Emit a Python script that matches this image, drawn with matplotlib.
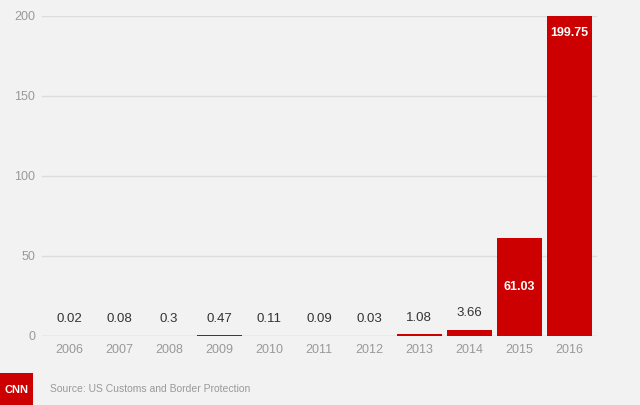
import matplotlib
matplotlib.use("Agg")
import matplotlib.pyplot as plt
from matplotlib.patches import Rectangle

plt.rcParams['font.family'] = ['Liberation Sans', 'DejaVu Sans']

years = ['2006', '2007', '2008', '2009', '2010', '2011',
         '2012', '2013', '2014', '2015', '2016']
values = [0.02, 0.08, 0.3, 0.47, 0.11, 0.09, 0.03, 1.08, 3.66, 61.03, 199.75]
value_labels = ['0.02', '0.08', '0.3', '0.47', '0.11', '0.09',
                '0.03', '1.08', '3.66', '61.03', '199.75']
yticks = [0, 50, 100, 150, 200]

bg = '#f2f2f2'
red = '#cc0000'

fig = plt.figure(figsize=(6.4, 4.05), dpi=100, facecolor=bg)
ax = fig.add_axes([0.0656, 0.1704, 0.8674, 0.7901], facecolor=bg)

x = list(range(len(years)))
ax.bar(x, values, width=0.9, color=red, zorder=3)

ax.set_xlim(-0.54, 10.56)
ax.set_ylim(0, 200)
ax.set_yticks(yticks)
ax.set_yticklabels([str(t) for t in yticks], color='#999999', fontsize=9)
ax.set_xticks(x)
ax.set_xticklabels(years, color='#999999', fontsize=9)
ax.tick_params(axis='both', length=0, pad=5)
ax.tick_params(axis='x', pad=6)
ax.grid(axis='y', color='#dddddd', linewidth=1, zorder=0)
ax.set_axisbelow(True)
for s in ax.spines.values():
    s.set_visible(False)
ax.axhline(0, color='#dddddd', linewidth=1, zorder=1)

# value labels: above small bars, inside the two tall ones
for i, (v, lab) in enumerate(zip(values, value_labels)):
    if i == len(values) - 1:
        ax.annotate(lab, (i, v), xytext=(0, -12), textcoords='offset points',
                    ha='center', va='center', color='white', fontsize=9,
                    fontweight='bold', zorder=4)
    elif i == len(values) - 2:
        ax.annotate(lab, (i, v / 2), xytext=(0, 0), textcoords='offset points',
                    ha='center', va='center', color='white', fontsize=9,
                    fontweight='bold', zorder=4)
    else:
        ax.annotate(lab, (i, v), xytext=(0, 12), textcoords='offset points',
                    ha='center', va='center', color='#333333', fontsize=9.5,
                    zorder=4)

# CNN logo and source line
fig.patches.append(Rectangle((0, 0), 33 / 640, 32 / 405, transform=fig.transFigure,
                             facecolor=red, edgecolor='none'))
fig.text(16.5 / 640, 1 - 390 / 405, 'CNN', color='white', fontsize=8,
         fontweight='bold', ha='center', va='center')
fig.text(50 / 640, 1 - 389 / 405, 'Source: US Customs and Border Protection',
         color='#999999', fontsize=7.5, ha='left', va='center')

fig.savefig('out.png', dpi=100, facecolor=bg)
